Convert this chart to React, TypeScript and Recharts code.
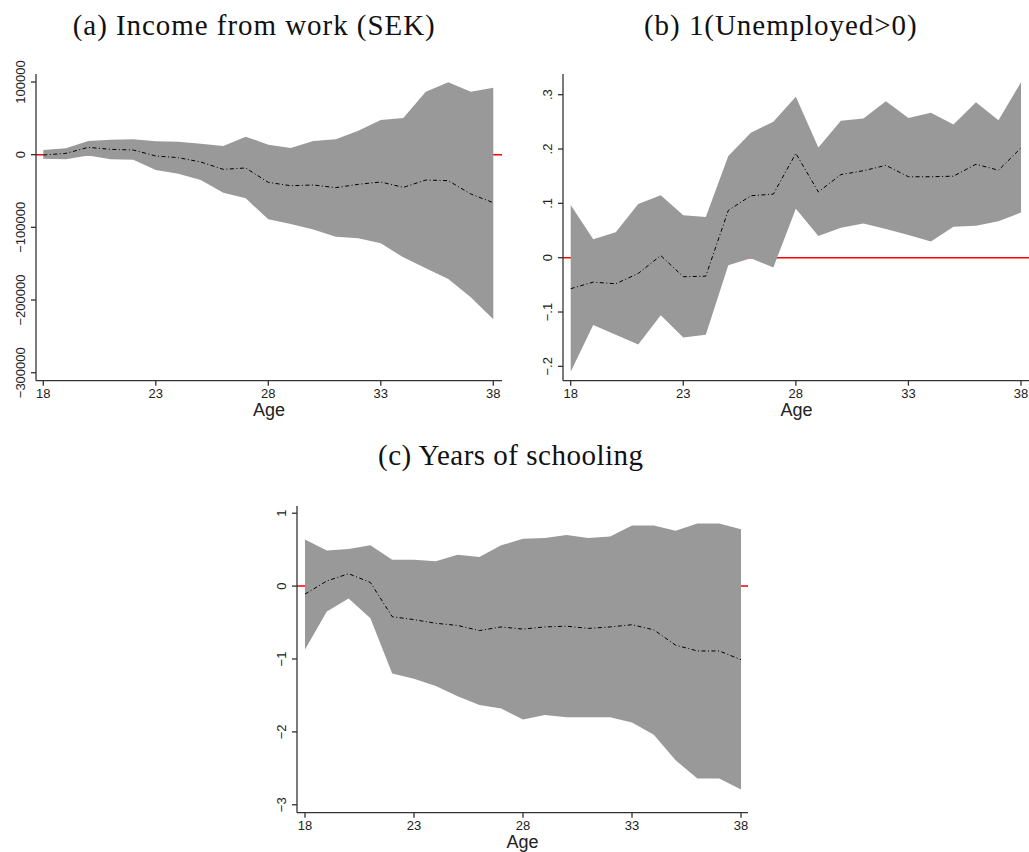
import React from "react";
import { ComposedChart, Area, Line, XAxis, YAxis, ReferenceLine, Label } from "recharts";

// ---------- data ----------
const ages = [18, 19, 20, 21, 22, 23, 24, 25, 26, 27, 28, 29, 30, 31, 32, 33, 34, 35, 36, 37, 38];
const xTicks = [18, 23, 28, 33, 38];

// (a) Income from work (SEK)
const incomeEst = [-500, 1800, 10100, 7300, 6400, -1800, -4100, -10100, -20200, -18300, -38100, -42700, -41700, -45400, -40800, -37600, -45000, -34900, -35800, -54100, -66100];
const incomeLo = [-5500, -6400, -1000, -6400, -6900, -21100, -26100, -34900, -52300, -60100, -89000, -95400, -102800, -112800, -115100, -122000, -141300, -156400, -171100, -196300, -226600];
const incomeHi = [6400, 8700, 18800, 20600, 21100, 18300, 17900, 15100, 11900, 24800, 13800, 9200, 18800, 21100, 33000, 47700, 50500, 86700, 99500, 86700, 92200];
const incomeTicks = [-300000, -200000, -100000, 0, 100000];
const incomeTickLabels = ["\u2212300000", "\u2212200000", "\u2212100000", "0", "100000"];

// (b) 1(Unemployed>0)
const unempEst = [-0.057, -0.045, -0.048, -0.029, 0.004, -0.035, -0.034, 0.087, 0.114, 0.117, 0.192, 0.121, 0.153, 0.16, 0.17, 0.149, 0.149, 0.15, 0.172, 0.161, 0.202];
const unempLo = [-0.21, -0.124, -0.142, -0.16, -0.106, -0.147, -0.142, -0.014, -0.001, -0.018, 0.09, 0.04, 0.055, 0.063, 0.053, 0.042, 0.03, 0.057, 0.059, 0.067, 0.083];
const unempHi = [0.097, 0.034, 0.047, 0.099, 0.115, 0.078, 0.075, 0.187, 0.23, 0.25, 0.296, 0.203, 0.252, 0.256, 0.288, 0.257, 0.267, 0.245, 0.286, 0.253, 0.323];
const unempTicks = [-0.2, -0.1, 0, 0.1, 0.2, 0.3];
const unempTickLabels = ["\u2212.2", "\u2212.1", "0", ".1", ".2", ".3"];

// (c) Years of schooling
const schoolEst = [-0.11, 0.07, 0.17, 0.05, -0.42, -0.46, -0.51, -0.54, -0.61, -0.56, -0.59, -0.56, -0.55, -0.58, -0.56, -0.53, -0.6, -0.81, -0.89, -0.89, -1.01];
const schoolLo = [-0.87, -0.35, -0.17, -0.44, -1.2, -1.27, -1.37, -1.51, -1.63, -1.68, -1.83, -1.77, -1.8, -1.8, -1.8, -1.87, -2.04, -2.39, -2.64, -2.64, -2.79];
const schoolHi = [0.64, 0.49, 0.51, 0.56, 0.36, 0.36, 0.34, 0.43, 0.4, 0.56, 0.65, 0.66, 0.7, 0.66, 0.68, 0.83, 0.83, 0.76, 0.86, 0.86, 0.78];
const schoolTicks = [-3, -2, -1, 0, 1];
const schoolTickLabels = ["\u22123", "\u22122", "\u22121", "0", "1"];

const titles = ["(a) Income from work (SEK)", "(b) 1(Unemployed>0)", "(c) Years of schooling"];

// ---------- styles ----------
const AXIS = "#333333";
const SANS = "'Liberation Sans', Arial, Helvetica, sans-serif";
const SERIF = "'Liberation Serif', 'Times New Roman', serif";

const XTick = (props: any) => {
  const { x, y, payload } = props;
  return (
    <text x={x} y={y + 12.6} textAnchor="middle" fontFamily={SANS} fontSize={13} fill="#222">
      {String(payload.value)}
    </text>
  );
};

const makeYTick = (values: number[], labels: string[]) => (props: any) => {
  const { x, y, payload } = props;
  let idx = values.findIndex((v) => Math.abs(v - payload.value) < 1e-9);
  const label = idx >= 0 ? labels[idx] : String(payload.value);
  const bx = x - 5.5;
  return (
    <text x={bx} y={y} transform={`rotate(-90, ${bx}, ${y})`} textAnchor="middle" fontFamily={SANS} fontSize={13} fill="#222">
      {label}
    </text>
  );
};

const renderAge = (props: any) => {
  const vb = props.viewBox || {};
  return (
    <text x={vb.x + vb.width / 2} y={vb.y + 35} textAnchor="middle" fontFamily={SANS} fontSize={18} fill="#222">
      Age
    </text>
  );
};

type PanelProps = {
  left: number;
  top: number;
  width: number;
  height: number;
  marginTop: number;
  est: number[];
  lo: number[];
  hi: number[];
  xDomain: [number, number];
  yDomain: [number, number];
  yTicks: number[];
  yLabels: string[];
};

function Panel(p: PanelProps) {
  const data = ages.map((a, i) => ({ age: a, est: p.est[i], band: [p.lo[i], p.hi[i]] }));
  const YTick = makeYTick(p.yTicks, p.yLabels);
  return (
    <div style={{ position: "absolute", left: p.left, top: p.top }}>
      <ComposedChart width={p.width} height={p.height} data={data} margin={{ top: p.marginTop, right: 0, bottom: 0, left: 0 }}>
        <XAxis
          dataKey="age"
          type="number"
          domain={p.xDomain}
          allowDataOverflow
          ticks={xTicks}
          interval={0}
          height={39.3}
          tickSize={5}
          tickMargin={0}
          tick={<XTick />}
          axisLine={{ stroke: AXIS, strokeWidth: 1.3 }}
          tickLine={{ stroke: AXIS, strokeWidth: 1.3 }}
          label={<Label content={renderAge} />}
        />
        <YAxis
          type="number"
          domain={p.yDomain}
          allowDataOverflow
          ticks={p.yTicks}
          interval={0}
          width={36}
          tickSize={5}
          tickMargin={0}
          tick={<YTick />}
          axisLine={{ stroke: AXIS, strokeWidth: 1.3 }}
          tickLine={{ stroke: AXIS, strokeWidth: 1.3 }}
        />
        <ReferenceLine y={0} stroke="#ff0000" strokeWidth={1.5} zIndex={50} />
        <Area dataKey="band" type="linear" fill="#999999" fillOpacity={1} stroke="none" isAnimationActive={false} />
        <Line dataKey="est" type="linear" stroke="#000000" strokeWidth={1} strokeDasharray="4 2.5 1 2.5" dot={false} activeDot={false} isAnimationActive={false} />
      </ComposedChart>
    </div>
  );
}

export default function App() {
  return (
    <div style={{ position: "absolute", left: 0, top: 0, width: 1029, height: 852, overflow: "hidden", background: "#ffffff" }}>
      <Panel
        left={0}
        top={60}
        width={502}
        height={360}
        marginTop={14}
        est={incomeEst}
        lo={incomeLo}
        hi={incomeHi}
        xDomain={[17.676, 38.387]}
        yDomain={[-311000, 111000]}
        yTicks={incomeTicks}
        yLabels={incomeTickLabels}
      />
      <Panel
        left={527}
        top={60}
        width={503}
        height={360}
        marginTop={14}
        est={unempEst}
        lo={unempLo}
        hi={unempHi}
        xDomain={[17.658, 38.4]}
        yDomain={[-0.2264, 0.3381]}
        yTicks={unempTicks}
        yLabels={unempTickLabels}
      />
      <Panel
        left={261}
        top={490}
        width={487}
        height={362}
        marginTop={16}
        est={schoolEst}
        lo={schoolLo}
        hi={schoolHi}
        xDomain={[17.633, 38.321]}
        yDomain={[-3.109, 1.099]}
        yTicks={schoolTicks}
        yLabels={schoolTickLabels}
      />
      <svg width={1029} height={852} style={{ position: "absolute", left: 0, top: 0, pointerEvents: "none" }}>
        <text x={72.7} y={35} fontFamily={SERIF} fontSize={29} fill="#111" textLength={362} lengthAdjust="spacing">
          {titles[0]}
        </text>
        <text x={644} y={35} fontFamily={SERIF} fontSize={29} fill="#111" textLength={272.7} lengthAdjust="spacing">
          {titles[1]}
        </text>
        <text x={378} y={465} fontFamily={SERIF} fontSize={29} fill="#111" textLength={265} lengthAdjust="spacing">
          {titles[2]}
        </text>
      </svg>
    </div>
  );
}
